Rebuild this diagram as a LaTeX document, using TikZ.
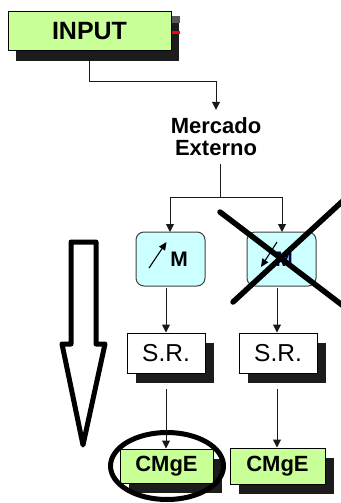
\documentclass[tikz,border=0pt]{standalone}
\usepackage{fontspec}
\setmainfont{Liberation Sans}
\usetikzlibrary{shadows,arrows.meta}
\definecolor{boxgreen}{HTML}{C8FF96}
\definecolor{boxcyan}{HTML}{CCFFFF}
\definecolor{shadowgrey}{HTML}{1C1C1C}
\tikzset{
  boxbase/.style={draw=black,line width=1pt,inner sep=0pt,align=center},
  withshadow/.style={general shadow={fill=shadowgrey,shadow xshift=#1pt,shadow yshift=-10pt}},
  greenbox/.style={boxbase,fill=boxgreen,font=\bfseries\fontsize{22}{24}\selectfont},
  srbox/.style={boxbase,fill=white,minimum width=78pt,minimum height=40pt,font=\fontsize{24.5}{26}\selectfont,withshadow=9},
  signbox/.style={boxbase,fill=boxcyan,draw=black!75,rounded corners=8pt,minimum width=69pt,minimum height=54pt},
  link/.style={line width=1pt,draw=black!90},
  linkarrow/.style={link,-{Triangle[length=8pt,width=8pt]}},
  thinarrow/.style={line width=1.1pt,-{Triangle[length=8pt,width=7pt]}},
  bigmark/.style={line width=5.5pt,line cap=round,draw=black},
}
\begin{document}
\begin{tikzpicture}[x=1pt,y=-1pt]
\useasboundingbox (0,0) rectangle (340,503);
\fill[white] (0,0) rectangle (340,503);
% top box
\node[greenbox,withshadow=8,minimum width=163pt,minimum height=39pt,font=\bfseries\fontsize{25}{27}\selectfont] (input) at (89.5,31.5) {INPUT};
\fill[black!65] (171.5,16) rectangle (180,23);
\coordinate (redend) at (180,32.5);
\draw[red,line width=2.5pt] (input.east |- redend) -- (redend);
% middle label
\node[inner sep=0pt,minimum width=92pt,minimum height=54pt,align=center,font=\bfseries\fontsize{22}{22}\selectfont] (mercado) at (216,137) {Mercado\\Externo};
\coordinate (bend) at (89,81);
\draw[linkarrow] (input.south) -- (input.south |- bend) -| (mercado.north);
% sign boxes
\node[signbox] (up) at (170.5,259) {};
\node[signbox] (down) at (281.5,259) {};
\node[font=\bfseries\fontsize{21}{21}\selectfont] (upm) at (179,259.5) {M};
\node[font=\bfseries\fontsize{21}{21}\selectfont,text=black!70!blue] (downm) at (284,259.5) {M};
\coordinate (upa) at (149,268);
\coordinate (upb) at (166.5,242);
\coordinate (downa) at (277,242);
\coordinate (downb) at (261,267);
\draw[thinarrow] (upa) -- (upb);
\draw[thinarrow] (downa) -- (downb);
% split
\coordinate (splittop) at (220,164);
\coordinate (split) at (220,197.5);
\draw[link] (splittop) -- (split);
\coordinate (lefttip) at (170,232);
\coordinate (righttip) at (282,232);
\draw[linkarrow] (split) -| (lefttip);
\draw[linkarrow] (split) -| (righttip);
% S.R.
\node[srbox] (srl) at (166,353) {S.R.};
\node[srbox] (srr) at (278,353) {S.R.};
\coordinate (ul) at (166,288);
\coordinate (ur) at (277,288);
\draw[linkarrow] (ul) -- (ul |- srl.north);
\draw[linkarrow] (ur) -- (ur |- srr.north);
% CMgE
\node[greenbox,withshadow=9,minimum width=93pt,minimum height=34pt] (cmgl) at (166.5,466) {CMgE};
\node[greenbox,withshadow=9,minimum width=95pt,minimum height=36pt] (cmgr) at (277.5,466) {CMgE};
\coordinate (ml) at (166,389);
\coordinate (mr) at (277,389);
\draw[linkarrow] (ml) -- (ml |- cmgl.north);
\draw[linkarrow] (mr) -- (mr |- cmgr.north);
% ellipse
\coordinate (ringc) at (167,466);
\draw[line width=5pt] (ringc) ellipse [x radius=56.5pt,y radius=33.5pt];
% big arrow
\draw[line width=5pt,line join=round,draw=black] (71,242) -- (96,242) -- (96,344) -- (105,344) -- (83,445) -- (62,344) -- (71,344) -- cycle;
% cross
\coordinate (xa) at (220,212);
\coordinate (xb) at (346,308);
\coordinate (xc) at (233,302);
\coordinate (xd) at (346,198);
\draw[bigmark] (xa) -- (xb);
\draw[bigmark] (xc) -- (xd);
\end{tikzpicture}
\end{document}
